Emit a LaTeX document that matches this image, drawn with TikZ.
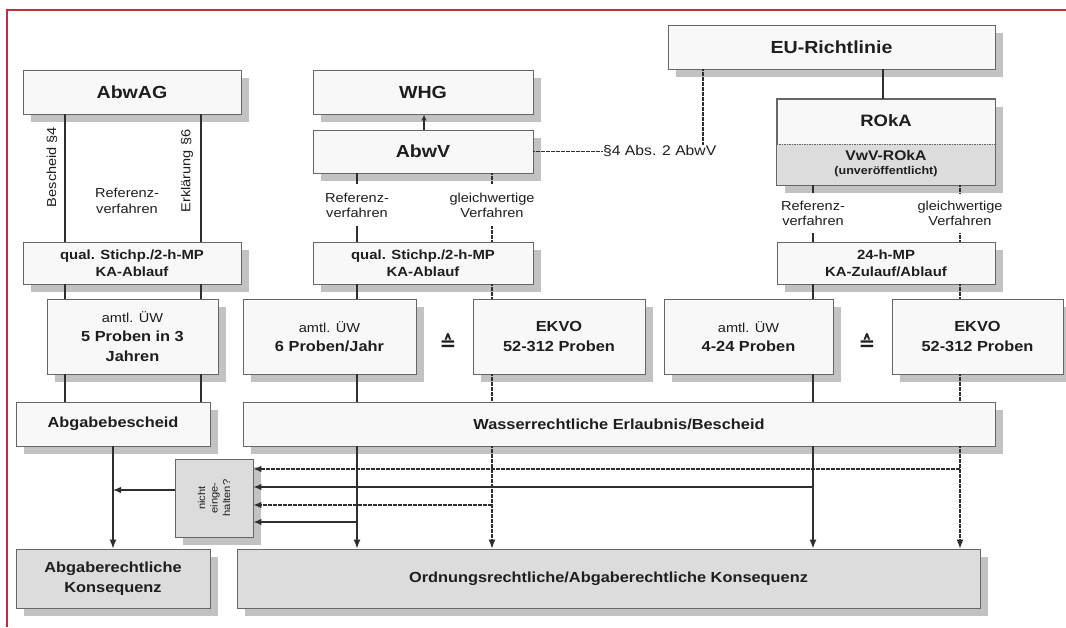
\documentclass[tikz,border=0pt]{standalone}
\usepackage{fontspec}
\setmainfont{Liberation Sans}[FakeStretch=1.12]
\newfontfamily\symfont{DejaVu Sans}
\usetikzlibrary{shadows,arrows.meta}
\definecolor{framered}{HTML}{C22A3E}
\definecolor{bfill}{HTML}{F8F8F8}
\definecolor{gfill}{HTML}{DCDCDC}
\definecolor{bdr}{HTML}{666666}
\definecolor{shd}{HTML}{C2C2C2}
\definecolor{ln}{HTML}{2E2E2E}
\definecolor{txt}{HTML}{1E1E1E}
\begin{document}
\begin{tikzpicture}[x=1pt,y=-1pt,
  box/.style={draw=bdr, line width=0.9pt, fill=bfill, inner sep=0pt, align=center, text=txt,
    drop shadow={shadow xshift=8pt,shadow yshift=-8pt,fill=shd,opacity=1}},
  gbox/.style={box, fill=gfill},
  sz/.style 2 args={minimum width=#1pt, minimum height=#2pt},
  ftitle/.style={font=\bfseries\fontsize{17.5}{20}\selectfont},
  fbody/.style={font=\bfseries\fontsize{14.6}{19.5}\selectfont},
  fqual/.style={font=\bfseries\fontsize{13.3}{17}\selectfont},
  flab/.style={font=\fontsize{13}{15.5}\selectfont, text=txt, align=center, inner sep=0pt},
  con/.style={draw=ln, line width=1.3pt},
  dcon/.style={draw=ln, line width=1.1pt, dash pattern=on 1.6pt off 0.9pt},
  arr/.style={-{Latex[length=9pt,width=7pt]}},
  harr/.style={-{Latex[length=8pt,width=6.5pt]}},
  eqs/.style={font=\symfont\bfseries\fontsize{20}{20}\selectfont, text=txt, inner sep=0pt}
]
\useasboundingbox (0,0) rectangle (1066,627);
\fill[white] (0,0) rectangle (1066,627);
\draw[framered, line width=1.2pt] (7,627) -- (7,10) -- (1066,10);

% coordinates for vertical lines
\coordinate (xa) at (65,0);
\coordinate (xb) at (201,0);
\coordinate (xc) at (357,0);
\coordinate (xd) at (492,0);
\coordinate (xe) at (813,0);
\coordinate (xf) at (960,0);
\coordinate (xg) at (113,0);
\coordinate (xh) at (424,0);
\coordinate (xi) at (883,0);
\coordinate (xj) at (703,0);
\coordinate (ya) at (0,469);
\coordinate (yb) at (0,487);
\coordinate (yc) at (0,505);
\coordinate (yd) at (0,522);
\coordinate (ye) at (0,490);
\coordinate (rdiv) at (0,144);

% top boxes
\node[box, sz={218}{44}, ftitle] (abwag) at (132,92) {AbwAG};
\node[box, sz={220}{44}, ftitle] (whg) at (423,92) {WHG};
\node[box, sz={220}{43}, ftitle] (abwv) at (423,151.5) {AbwV};
\node[box, sz={327}{44}, ftitle] (eu) at (831.5,47) {EU-Richtlinie};
\node[box, sz={218}{86}] (roka) at (886,142) {};
\fill[gfill] (roka.south west) rectangle (roka.east |- rdiv);
\draw[bdr, line width=0.9pt] (roka.south west) rectangle (roka.north east);
\draw[bdr, line width=0.8pt, dash pattern=on 1.5pt off 1pt] (roka.west |- rdiv) -- (roka.east |- rdiv);
\node[ftitle, font=\bfseries\fontsize{16.5}{20}\selectfont, text=txt] (rokat) at (886,121) {ROkA};
\node[text=txt, font=\bfseries\fontsize{14}{16}\selectfont] (vwv) at (886,155) {VwV-ROkA};
\node[text=txt, font=\bfseries\fontsize{11.2}{12}\selectfont] (unv) at (886,171.5) {(unveröffentlicht)};

% qual row
\node[box, sz={218}{42}, fqual] (qualL) at (132,263) {qual. Stichp./2-h-MP\\KA-Ablauf};
\node[box, sz={220}{42}, fqual] (qualM) at (423,263) {qual. Stichp./2-h-MP\\KA-Ablauf};
\node[box, sz={218}{42}, fqual] (q24) at (886,263) {24-h-MP\\KA-Zulauf/Ablauf};

% amtl row
\node[box, sz={171}{75}, fbody] (amtlL) at (132.5,336.5) {{\mdseries\fontsize{13}{19.5}\selectfont amtl. ÜW}\\5 Proben in 3\\Jahren};
\node[box, sz={173}{75}, fbody] (amtlM) at (329.5,336.5) {{\mdseries\fontsize{13}{19.5}\selectfont amtl. ÜW}\\6 Proben/Jahr};
\node[box, sz={172}{75}, fbody] (ekvoM) at (559,336.5) {EKVO\\52-312 Proben};
\node[box, sz={169}{75}, fbody] (amtlR) at (748.5,336.5) {{\mdseries\fontsize{13}{19.5}\selectfont amtl. ÜW}\\4-24 Proben};
\node[box, sz={171}{75}, fbody] (ekvoR) at (977.5,336.5) {EKVO\\52-312 Proben};
\node[eqs] (eq1) at (448,342) {≙};
\node[eqs] (eq2) at (867,342) {≙};

% bescheid row
\node[box, sz={194}{44}, fbody] (abgb) at (113,424) {Abgabebescheid};
\node[box, sz={752}{44}, fbody] (wasser) at (619,424) {Wasserrechtliche Erlaubnis/Bescheid};

% consequence row
\node[gbox, sz={194}{59}, fbody] (abgk) at (113,578.5) {Abgaberechtliche\\Konsequenz};
\node[gbox, sz={743}{59}, fbody] (ordn) at (608.5,578.5) {Ordnungsrechtliche/Abgaberechtliche Konsequenz};
\node[gbox, sz={78}{78}] (nicht) at (214,498) {};
\node[rotate=90, align=center, text=txt, font=\fontsize{10}{12.5}\selectfont, inner sep=0pt] (nichtt) at (nicht.center) {nicht\\einge-\\halten?};

% labels
\node[flab] (ref1) at (127,201) {Referenz-\\verfahren};
\node[flab, rotate=90] (besch) at (52,167) {Bescheid §4};
\node[flab, rotate=90] (erkl) at (187,171) {Erklärung §6};
\node[flab] (ref2) at (357,205.5) {Referenz-\\verfahren};
\node[flab] (gl2) at (492,205.5) {gleichwertige\\Verfahren};
\node[flab] (ref3) at (813,213.5) {Referenz-\\verfahren};
\node[flab] (gl3) at (960,213.5) {gleichwertige\\Verfahren};
\node[flab, anchor=west, font=\fontsize{14}{16}\selectfont] (sect) at (603,151) {§4 Abs. 2 AbwV};

% top connectors
\draw[con, -{Latex[length=6pt,width=5.5pt]}] (abwv.north -| xh) -- (whg.south -| xh);
\draw[dcon] (abwv.east) -- (abwv.east -| sect.west);
\draw[dcon] (eu.south -| xj) -- (sect.north -| xj);
\draw[con] (eu.south -| xi) -- (roka.north -| xi);

% left column
\draw[con] (abwag.south -| xa) -- (qualL.north -| xa);
\draw[con] (abwag.south -| xb) -- (qualL.north -| xb);
\draw[con] (qualL.south -| xa) -- (amtlL.north -| xa);
\draw[con] (qualL.south -| xb) -- (amtlL.north -| xb);
\draw[con] (amtlL.south -| xa) -- (abgb.north -| xa);
\draw[con] (amtlL.south -| xb) -- (abgb.north -| xb);

% middle column
\draw[con] (abwv.south -| xc) -- ++(0,11);
\draw[dcon] (abwv.south -| xd) -- ++(0,11);
\draw[con] (qualM.north -| xc) -- ++(0,-16);
\draw[dcon] (qualM.north -| xd) -- ++(0,-16);
\draw[con] (qualM.south -| xc) -- (amtlM.north -| xc);
\draw[dcon] (qualM.south -| xd) -- (ekvoM.north -| xd);
\draw[con] (amtlM.south -| xc) -- (wasser.north -| xc);
\draw[dcon] (ekvoM.south -| xd) -- (wasser.north -| xd);

% right column
\draw[con] (roka.south -| xe) -- ++(0,8);
\draw[dcon] (roka.south -| xf) -- ++(0,8);
\draw[con] (q24.north -| xe) -- ++(0,-9);
\draw[dcon] (q24.north -| xf) -- ++(0,-9);
\draw[con] (q24.south -| xe) -- (amtlR.north -| xe);
\draw[dcon] (q24.south -| xf) -- (ekvoR.north -| xf);
\draw[con] (amtlR.south -| xe) -- (wasser.north -| xe);
\draw[dcon] (ekvoR.south -| xf) -- (wasser.north -| xf);

% lower connectors
\draw[con, arr] (wasser.south -| xc) -- (ordn.north -| xc);
\draw[dcon, arr] (wasser.south -| xd) -- (ordn.north -| xd);
\draw[con, arr] (wasser.south -| xe) -- (ordn.north -| xe);
\draw[dcon, arr] (wasser.south -| xf) -- (ordn.north -| xf);
\draw[dcon, harr] (xf |- ya) -- (nicht.east |- ya);
\draw[con, harr] (xe |- yb) -- (nicht.east |- yb);
\draw[dcon, harr] (xd |- yc) -- (nicht.east |- yc);
\draw[con, harr] (xc |- yd) -- (nicht.east |- yd);
\draw[con, arr] (abgb.south) -- (abgk.north);
\draw[con, harr] (nicht.west |- ye) -- (xg |- ye);
\end{tikzpicture}
\end{document}
